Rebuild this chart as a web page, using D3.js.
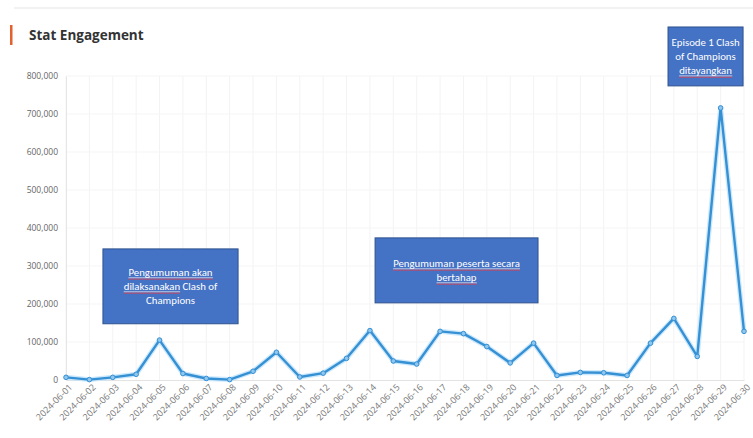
<!DOCTYPE html>
<html><head><meta charset="utf-8">
<script src="https://cdn.jsdelivr.net/npm/d3@7"></script>
<style>
html,body{margin:0;padding:0;background:#fff;}
svg{display:block;font-family:"Open Sans","Noto Sans",sans-serif;}
</style></head>
<body><svg id="c" width="753" height="438"></svg>
<script>
const dates = ["2024-06-01","2024-06-02","2024-06-03","2024-06-04","2024-06-05","2024-06-06","2024-06-07","2024-06-08","2024-06-09","2024-06-10","2024-06-11","2024-06-12","2024-06-13","2024-06-14","2024-06-15","2024-06-16","2024-06-17","2024-06-18","2024-06-19","2024-06-20","2024-06-21","2024-06-22","2024-06-23","2024-06-24","2024-06-25","2024-06-26","2024-06-27","2024-06-28","2024-06-29","2024-06-30"];
const engagement = [7000,1000,7000,15000,105000,17000,4000,1000,23000,73000,8000,18000,57000,130000,50000,42000,128000,122000,88000,45000,97000,12000,20000,19000,12000,97000,162000,62000,716000,128000];
const yTicks = [0,100000,200000,300000,400000,500000,600000,700000,800000];
// annotation boxes anchored in data coordinates (fractional date index, value)
const notes = [
  {lines:["Pengumuman akan","dilaksanakan Clash of","Champions"], i0:1.58, i1:7.36, v0:345000, v1:148000, red:[[0],[1,"dilaksanakan"]]},
  {lines:["Pengumuman peserta secara","bertahap"], i0:13.22, i1:20.19, v0:374000, v1:203000, red:[[0],[1]]},
  {lines:["Episode 1 Clash","of Champions","ditayangkan"], i0:25.75, i1:28.96, v0:929000, v1:774000, red:[[2]]}
];

const svg = d3.select("#c");
const W = 753, H = 438;
const m = {l:66, r:9, t:76, b:58};

// page decoration
svg.append("line").attr("x1",14).attr("x2",753).attr("y1",8).attr("y2",8).attr("stroke","#eeeeee").attr("stroke-width",1.5);
svg.append("rect").attr("x",10).attr("y",25).attr("width",2.5).attr("height",20).attr("fill","#e2612f");
svg.append("text").attr("x",29).attr("y",40).attr("font-size",13.5).attr("font-weight",700).attr("fill","#333").text("Stat Engagement");

const x = d3.scalePoint().domain(dates).range([m.l, W - m.r]);
const xi = d3.scaleLinear().domain([0, dates.length-1]).range([m.l, W - m.r]);
const y = d3.scaleLinear().domain([0,800000]).range([H - m.b, m.t]);

// gridlines
svg.append("g").selectAll("line").data(dates).join("line")
  .attr("x1",d=>x(d)).attr("x2",d=>x(d)).attr("y1",y(800000)).attr("y2",y(0))
  .attr("stroke","#f3f3f3");
svg.append("g").selectAll("line").data(yTicks.slice(1)).join("line")
  .attr("x1",m.l).attr("x2",W-m.r).attr("y1",d=>y(d)).attr("y2",d=>y(d))
  .attr("stroke","#f5f5f5");

// y axis
const ya = svg.append("g").attr("transform",`translate(${m.l},0)`)
  .call(d3.axisLeft(y).tickValues(yTicks).tickFormat(d3.format(",")).tickSize(0).tickPadding(8));
ya.select(".domain").attr("stroke","#e6e6e6");
ya.selectAll("text").attr("font-size",8.5).attr("fill","#666").attr("font-family","'Open Sans',sans-serif");

// x axis
const xa = svg.append("g").attr("transform",`translate(0,${y(0)})`)
  .call(d3.axisBottom(x).tickSize(0).tickPadding(6));
xa.select(".domain").attr("stroke","#e3e3e3");
xa.selectAll("text").attr("font-size",9).attr("fill","#777").attr("font-family","'Open Sans',sans-serif")
  .attr("text-anchor","end").attr("dx","-0.1em").attr("dy","0.45em").attr("transform","rotate(-45)");

// line with glow
const line = d3.line().x((d,i)=>x(dates[i])).y(d=>y(d));
svg.append("path").datum(engagement).attr("d",line).attr("fill","none")
  .attr("stroke","#bfe2fb").attr("stroke-width",5).attr("stroke-linejoin","round").attr("opacity",0.8);
svg.append("path").datum(engagement).attr("d",line).attr("fill","none")
  .attr("stroke","#3590d4").attr("stroke-width",2.4).attr("stroke-linejoin","round");
svg.append("g").selectAll("circle").data(engagement).join("circle")
  .attr("cx",(d,i)=>x(dates[i])).attr("cy",d=>y(d)).attr("r",2.3)
  .attr("fill","#8fc6ee").attr("stroke","#3590d4").attr("stroke-width",1);

// annotations
const FF = "Carlito,'Liberation Sans','Open Sans',sans-serif";
const FS = 10.8;
const ann = svg.append("g");
notes.forEach(n=>{
  const bx0 = xi(n.i0), bx1 = xi(n.i1);
  const by0 = y(n.v0), by1 = y(n.v1);
  ann.append("rect").attr("x",bx0).attr("y",by0).attr("width",bx1-bx0).attr("height",by1-by0)
    .attr("fill","#4472c4").attr("stroke","#2f528f").attr("stroke-width",1);
  const cx = (bx0+bx1)/2, lh = 14;
  const top = (by0+by1)/2 - (n.lines.length-1)*lh/2 + 3.5;
  n.lines.forEach((t,i)=>{
    const tx = ann.append("text").attr("x",cx).attr("y",top+i*lh).attr("text-anchor","middle")
      .attr("font-size",FS).attr("fill","#fff").attr("font-family",FF).text(t);
    const r = n.red.find(rr=>rr[0]===i);
    if(r){
      const bb = tx.node().getBBox();
      let x0 = bb.x, x1 = bb.x + bb.width;
      if(r[1]){
        const tmp = ann.append("text").attr("font-size",FS).attr("font-family",FF).text(r[1]);
        const wpart = tmp.node().getComputedTextLength(); tmp.remove();
        x1 = x0 + wpart;
      }
      ann.append("line").attr("x1",x0).attr("x2",x1).attr("y1",top+i*lh+2).attr("y2",top+i*lh+2)
        .attr("stroke","#ffffff").attr("stroke-width",0.7);
      ann.append("line").attr("x1",x0).attr("x2",x1).attr("y1",top+i*lh+3.3).attr("y2",top+i*lh+3.3)
        .attr("stroke","#d0455a").attr("stroke-width",0.9);
    }
  });
});
</script></body></html>
